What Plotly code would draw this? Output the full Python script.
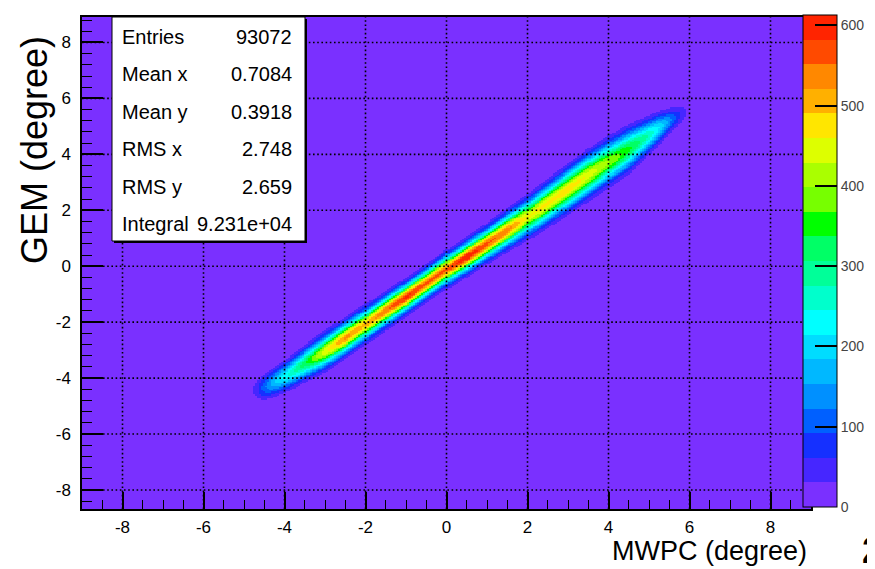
import numpy as np
import plotly.graph_objects as go

# ---------------- data ----------------
stat_labels = ["Entries", "Mean x", "Mean y", "RMS x", "RMS y", "Integral"]
stat_values = ["93072", "0.7084", "0.3918", "2.748", "2.659", "9.231e+04"]

x_ticks = [-8, -6, -4, -2, 0, 2, 4, 6, 8]
y_ticks = [-8, -6, -4, -2, 0, 2, 4, 6, 8]
cbar_ticks = [0, 100, 200, 300, 400, 500, 600]

# profile of the diagonal band
band_x      = [-5.0, -4.9, -4.7, -4.5, -4.25, -4.0, -3.75, -3.5, -3.0, -2.5, -2.0, -1.5, -1.0, -0.5,
               0.0, 0.5, 1.0, 1.5, 2.0, 2.5, 3.0, 3.5, 4.0, 4.5, 5.0, 5.25, 5.5, 5.75, 6.0, 6.1]
band_center = [-4.52, -4.50, -4.42, -4.33, -4.15, -3.95, -3.72, -3.48, -3.05, -2.58, -2.08, -1.58, -1.12, -0.62,
               -0.12, 0.33, 0.80, 1.28, 1.75, 2.25, 2.75, 3.25, 3.72, 4.18, 4.68, 4.93, 5.18, 5.38, 5.55, 5.6]
band_peak   = [0, 12, 45, 110, 175, 230, 280, 330, 450, 530, 500, 545, 590, 560,
               560, 610, 560, 540, 460, 470, 480, 455, 400, 350, 270, 215, 140, 70, 20, 0]
band_sigma  = [0.22, 0.22, 0.26, 0.28, 0.29, 0.29, 0.30, 0.31, 0.33, 0.32, 0.31, 0.30, 0.29, 0.29,
               0.30, 0.30, 0.31, 0.33, 0.36, 0.38, 0.40, 0.41, 0.42, 0.41, 0.34, 0.31, 0.26, 0.24, 0.22, 0.22]

z_max = 613
palette = ["#7a30ff", "#4626ff", "#1530ff", "#0060ff", "#0090ff", "#00b8ff", "#00dcff",
           "#00ffff", "#00ffcc", "#00ff99", "#00ff66", "#00ff00", "#77ff00", "#aaff00",
           "#ddff00", "#ffe600", "#ffb000", "#ff8800", "#ff4a00", "#ff2400"]

FONT = "Liberation Sans, Arial, sans-serif"

# ---------------- build the histogram table ----------------
gx = np.round(np.arange(-5.5, 6.5001, 0.05), 3)
gy = np.round(np.arange(-5.5, 6.5001, 0.05), 3)
c = np.interp(gx, band_x, band_center)
p = np.interp(gx, band_x, band_peak)
s = np.interp(gx, band_x, band_sigma)
Z = p[None, :] * np.exp(-0.5 * ((gy[:, None] - c[None, :]) / s[None, :]) ** 2)
Z = np.round(Z, 1)

n = len(palette)
cscale = []
for i, col in enumerate(palette):
    cscale.append([i / n, col])
    cscale.append([(i + 1) / n, col])

# page-pixel helpers (the page body adds an 8 px offset)
OFF = 8
W, H = 875 - OFF, 569 - OFF
L, R, T, B = 82, 811, 17, 509          # plot frame in page pixels
def px(xp):
    return (xp - L) / (R - L)
def py(yp):
    return (B - yp) / (B - T)

fig = go.Figure()
fig.add_trace(go.Heatmap(
    x=gx, y=gy, z=Z, zmin=0, zmax=z_max, colorscale=cscale, zsmooth=False,
    hoverinfo="skip",
    colorbar=dict(
        thickness=34, thicknessmode="pixels", len=492, lenmode="pixels",
        x=px(803), xanchor="left", xpad=0, y=py(507), yanchor="bottom", ypad=0,
        outlinewidth=1, outlinecolor="black",
        tickmode="array", tickvals=cbar_ticks, ticktext=[str(v) for v in cbar_ticks],
        ticks="inside", ticklen=22, tickwidth=2, tickcolor="black",
        tickfont=dict(size=14, family=FONT, color="#444"),
    ),
))

shapes = []
for xv in x_ticks:
    shapes.append(dict(type="line", xref="x", yref="paper", x0=xv, x1=xv, y0=0, y1=1,
                       line=dict(color="black", width=1.6, dash="1.6px,2.6px"), layer="above"))
for yv in y_ticks:
    shapes.append(dict(type="line", xref="paper", yref="y", x0=0, x1=1, y0=yv, y1=yv,
                       line=dict(color="black", width=1.6, dash="1.6px,2.6px"), layer="above"))
# stats box with shadow
shapes.append(dict(type="rect", xref="paper", yref="paper", x0=px(114), x1=px(307), y0=py(243), y1=py(19),
                   fillcolor="black", line=dict(width=0), layer="above"))
shapes.append(dict(type="rect", xref="paper", yref="paper", x0=px(112), x1=px(305), y0=py(241), y1=py(17),
                   fillcolor="white", line=dict(color="black", width=1), layer="above"))

ann = []
for i, (lab, val) in enumerate(zip(stat_labels, stat_values)):
    yc = 37 + 37.4 * i
    ann.append(dict(text=lab, x=px(120), y=py(yc), xref="paper", yref="paper", xanchor="left",
                    yanchor="middle", showarrow=False, font=dict(size=20, family=FONT, color="black")))
    ann.append(dict(text=val, x=px(294), y=py(yc), xref="paper", yref="paper", xanchor="right",
                    yanchor="middle", showarrow=False, font=dict(size=20, family=FONT, color="black")))
ann.append(dict(text="MWPC (degree)", x=px(809), y=py(551), xref="paper", yref="paper", xanchor="right",
                yanchor="middle", showarrow=False, font=dict(size=27, family=FONT, color="black")))
ann.append(dict(text="GEM (degree)", x=px(34), y=py(150), xref="paper", yref="paper", xanchor="center",
                yanchor="middle", textangle=-90, showarrow=False,
                font=dict(size=36, family=FONT, color="black")))
ann.append(dict(text="<b>2</b>", x=px(860), y=py(550), xref="paper", yref="paper", xanchor="left",
                yanchor="middle", showarrow=False,
                font=dict(size=36, family=FONT, color="black")))

fig.update_layout(
    width=W, height=H,
    margin=dict(l=L - OFF, r=W - (R - OFF), t=T - OFF, b=H - (B - OFF), autoexpand=False),
    paper_bgcolor="white", plot_bgcolor=palette[0],
    shapes=shapes, annotations=ann, showlegend=False,
    xaxis=dict(range=[-9, 9], tickmode="array", tickvals=x_ticks, ticktext=[str(v) for v in x_ticks],
               ticks="inside", ticklen=17, tickwidth=1.5, tickcolor="black",
               minor=dict(tick0=0, dtick=0.5, ticks="inside", ticklen=9, tickwidth=1, tickcolor="black"),
               showgrid=False, zeroline=False, showline=True, linecolor="black", linewidth=1.5, mirror=True,
               tickfont=dict(size=17, family=FONT, color="black"), ticklabelstandoff=2),
    yaxis=dict(range=[-8.68, 8.91], tickmode="array", tickvals=y_ticks, ticktext=[str(v) for v in y_ticks],
               ticks="inside", ticklen=21, tickwidth=1.5, tickcolor="black",
               minor=dict(tick0=0, dtick=0.4, ticks="inside", ticklen=10, tickwidth=1, tickcolor="black"),
               showgrid=False, zeroline=False, showline=True, linecolor="black", linewidth=1.5, mirror=True,
               tickfont=dict(size=17, family=FONT, color="black"), ticklabelstandoff=6),
)

fig.write_html("out.html")
